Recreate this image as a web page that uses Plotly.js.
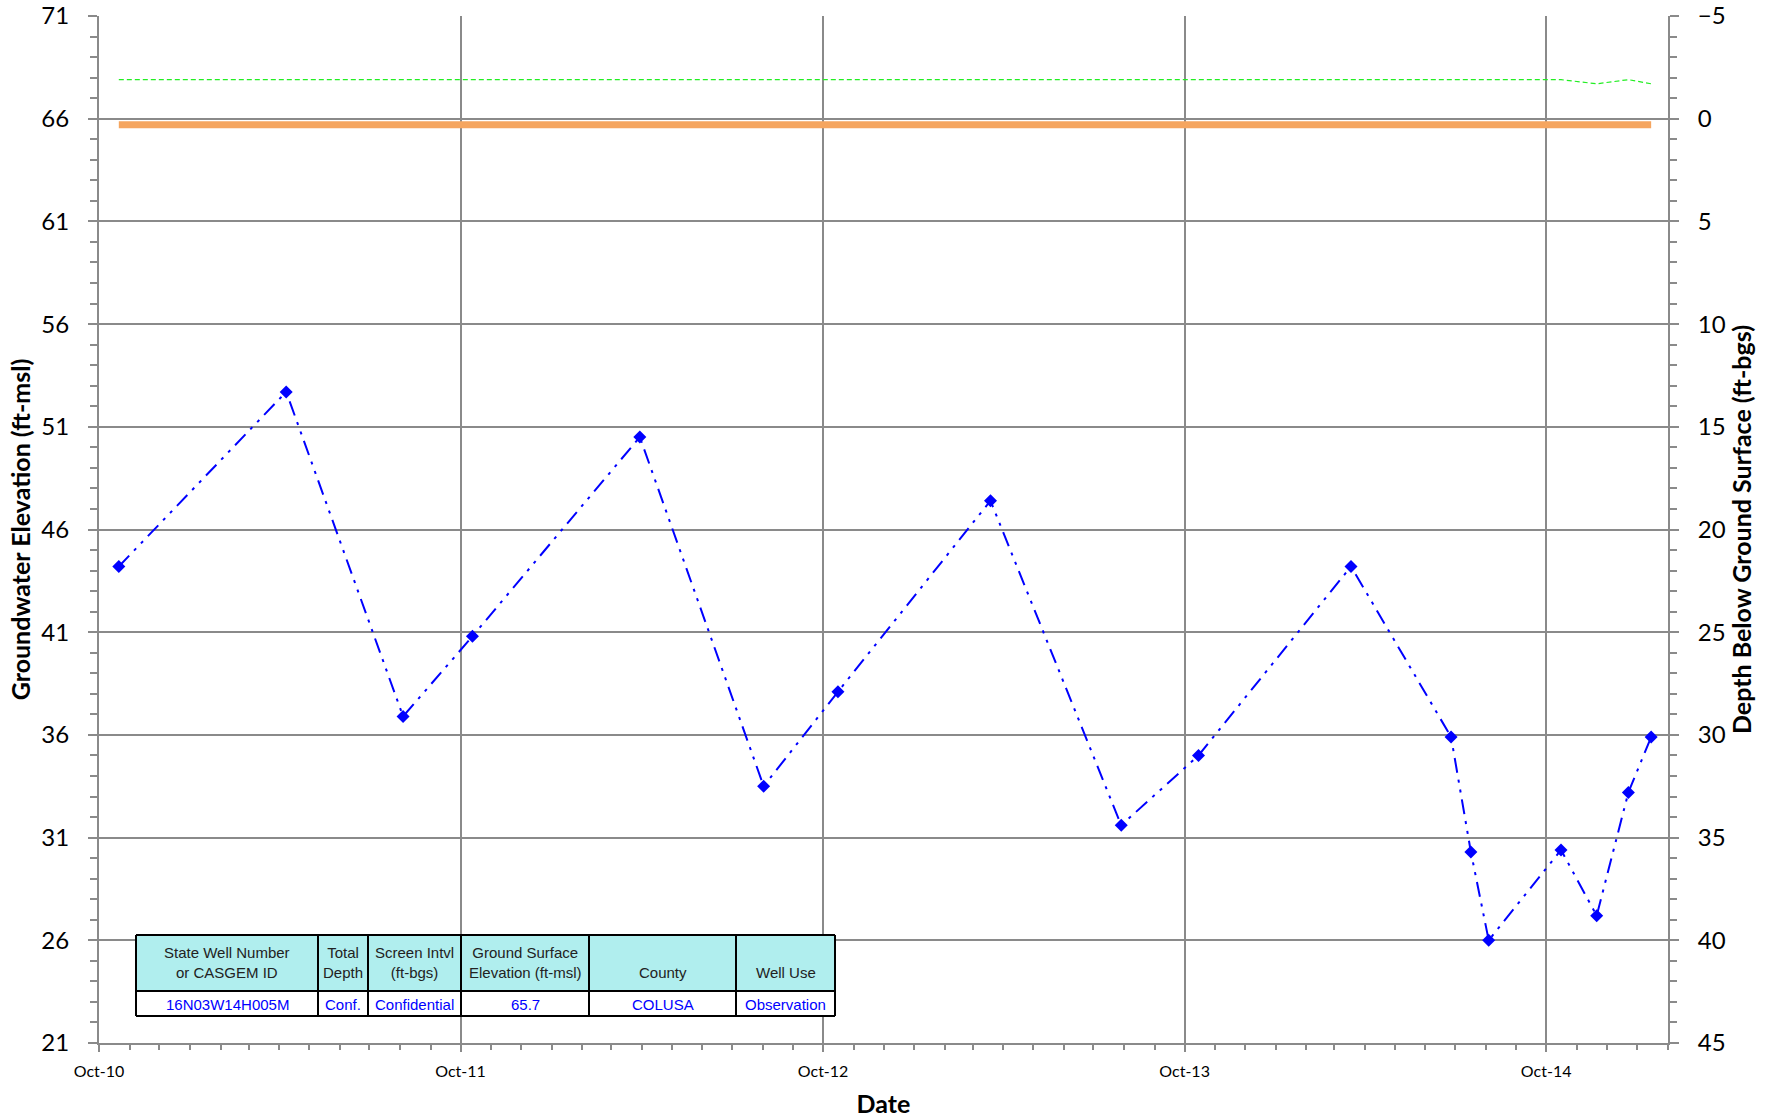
<!DOCTYPE html>
<html>
<head>
<meta charset="utf-8">
<script src="https://cdn.plot.ly/plotly-3.0.1.min.js"></script>
<style>
  html, body { margin: 0; padding: 0; background: #ffffff; }
  #chart { width: 1776px; height: 1120px; }
</style>
</head>
<body>
<div id="chart"></div>
<script>
// ---------------- DATA ----------------
const dates = [
  '2010-10-21', '2011-04-08', '2011-08-04', '2011-10-13', '2012-03-30',
  '2012-08-02', '2012-10-16', '2013-03-19', '2013-07-29', '2013-10-15',
  '2014-03-18', '2014-06-27', '2014-07-17', '2014-08-04', '2014-10-16',
  '2014-11-21', '2014-12-23', '2015-01-15'
];
const gwElevation = [
  44.2, 52.7, 36.9, 40.8, 50.5,
  33.5, 38.1, 47.4, 31.6, 35.0,
  44.2, 35.9, 30.3, 26.0, 30.4,
  27.2, 33.2, 35.9
];
const refLine = [
  67.9, 67.9, 67.9, 67.9, 67.9,
  67.9, 67.9, 67.9, 67.9, 67.9,
  67.9, 67.9, 67.9, 67.9, 67.9,
  67.7, 67.9, 67.7
];
const groundSurfaceElev = 65.7;
const groundSurfaceDates = [dates[0], dates[dates.length - 1]];

const tableHeaders = ['State Well Number<br>or CASGEM ID', 'Total<br>Depth', 'Screen Intvl<br>(ft-bgs)',
                      'Ground Surface<br>Elevation (ft-msl)', 'County', 'Well Use'];
const tableValues  = ['16N03W14H005M', 'Conf.', 'Confidential', '65.7', 'COLUSA', 'Observation'];

const leftTitle  = 'Groundwater Elevation (ft-msl)';
const rightTitle = 'Depth Below Ground Surface (ft-bgs)';
const xTitle     = 'Date';

// ---------------- LAYOUT HELPERS ----------------
const W = 1776, H = 1120;
const M = { l: 99, r: 108, t: 16, b: 77 };
const PW = W - M.l - M.r, PH = H - M.t - M.b;
const px = x => (x - M.l) / PW;
const py = y => (H - M.b - y) / PH;

const gridCol = '#8a8a8a';
const tickFont = { family: 'Lato, "Open Sans", sans-serif', size: 24, color: '#000' };
const titleFont = { family: 'Lato, "Open Sans", sans-serif', size: 25, color: '#000', weight: 'bold' };

// table geometry (pixels)
const colEdges = [136, 318, 368, 461, 589, 736, 835];
const tTop = 935, tMid = 991, tBot = 1016;

const shapes = [];
const annotations = [];
shapes.push({ type: 'rect', xref: 'paper', yref: 'paper', x0: px(colEdges[0]), x1: px(colEdges[6]),
  y0: py(tMid), y1: py(tTop), fillcolor: '#b0eeee', line: { width: 0 }, layer: 'above' });
shapes.push({ type: 'rect', xref: 'paper', yref: 'paper', x0: px(colEdges[0]), x1: px(colEdges[6]),
  y0: py(tBot), y1: py(tMid), fillcolor: '#ffffff', line: { width: 0 }, layer: 'above' });
[tTop, tMid, tBot].forEach(y => shapes.push({ type: 'line', xref: 'paper', yref: 'paper',
  x0: px(colEdges[0]) , x1: px(colEdges[6]), y0: py(y), y1: py(y), line: { color: '#000', width: 2 }, layer: 'above' }));
colEdges.forEach(x => shapes.push({ type: 'line', xref: 'paper', yref: 'paper',
  x0: px(x), x1: px(x), y0: py(tBot), y1: py(tTop), line: { color: '#000', width: 2 }, layer: 'above' }));

const tblFont = 'Liberation Sans Narrow, "Arial Narrow", "Liberation Sans", sans-serif';
for (let i = 0; i < tableHeaders.length; i++) {
  const cx = px((colEdges[i] + colEdges[i + 1]) / 2);
  annotations.push({ xref: 'paper', yref: 'paper', x: cx, y: py(983), yanchor: 'bottom', xanchor: 'center',
    text: tableHeaders[i], showarrow: false, align: 'center',
    font: { family: tblFont, size: 15, color: '#222' } });
  annotations.push({ xref: 'paper', yref: 'paper', x: cx, y: py(1004), yanchor: 'middle', xanchor: 'center',
    text: tableValues[i], showarrow: false,
    font: { family: tblFont, size: 15, color: '#0000ff' } });
}

// ---------------- TRACES ----------------
const traces = [
  { x: groundSurfaceDates, y: [groundSurfaceElev, groundSurfaceElev], mode: 'lines', type: 'scatter',
    line: { color: '#f5a55f', width: 7 }, hoverinfo: 'skip', showlegend: false },
  { x: dates, y: refLine, mode: 'lines', type: 'scatter',
    line: { color: '#22ee22', width: 1.2, dash: '5px,3px' }, showlegend: false },
  { x: dates, y: gwElevation, mode: 'lines+markers', type: 'scatter',
    line: { color: '#0000ff', width: 2, dash: '15px,7px,3px,7px,3px,7px' },
    marker: { symbol: 'diamond', size: 10, color: '#0000ff' }, showlegend: false },
  { x: [dates[0]], y: [0], yaxis: 'y2', mode: 'markers', marker: { opacity: 0 }, hoverinfo: 'skip', showlegend: false }
];

const layout = {
  width: W, height: H,
  margin: M,
  paper_bgcolor: '#ffffff', plot_bgcolor: '#ffffff',
  showlegend: false,
  xaxis: {
    type: 'date',
    range: ['2010-10-01', '2015-02-01'],
    tick0: '2010-10-01', dtick: 'M12', tickformat: '%b-%y',
    ticks: 'outside', ticklen: 7, tickwidth: 2, tickcolor: gridCol,
    minor: { dtick: 'M1', ticks: 'outside', ticklen: 5, tickwidth: 2, tickcolor: gridCol, showgrid: false },
    showgrid: true, gridcolor: gridCol, gridwidth: 2,
    showline: true, linecolor: gridCol, linewidth: 2,
    zeroline: false,
    tickfont: { family: 'Lato, "Open Sans", sans-serif', size: 16, color: '#000' },
    ticklabelstandoff: 6,
    title: { text: xTitle, standoff: 16, font: titleFont }
  },
  yaxis: {
    range: [21, 71], tick0: 21, dtick: 5,
    ticks: 'outside', ticklen: 9, tickwidth: 2, tickcolor: gridCol,
    minor: { dtick: 1, ticks: 'outside', ticklen: 7, tickwidth: 2, tickcolor: gridCol, showgrid: false },
    showgrid: true, gridcolor: gridCol, gridwidth: 2,
    showline: true, linecolor: gridCol, linewidth: 2,
    zeroline: false,
    tickfont: tickFont,
    ticklabelstandoff: 14,
    title: { text: leftTitle, standoff: 4, font: titleFont }
  },
  yaxis2: {
    overlaying: 'y', side: 'right',
    range: [45, -5], tick0: -5, dtick: 5,
    ticks: 'outside', ticklen: 9, tickwidth: 2, tickcolor: gridCol,
    minor: { dtick: 1, ticks: 'outside', ticklen: 7, tickwidth: 2, tickcolor: gridCol, showgrid: false },
    showgrid: false, zeroline: false,
    showline: true, linecolor: gridCol, linewidth: 2,
    tickfont: tickFont,
    ticklabelstandoff: 14,
    title: { text: rightTitle, standoff: 8, font: titleFont }
  },
  shapes: shapes,
  annotations: annotations
};

Plotly.newPlot('chart', traces, layout, { staticPlot: true, displayModeBar: false });
</script>
</body>
</html>
